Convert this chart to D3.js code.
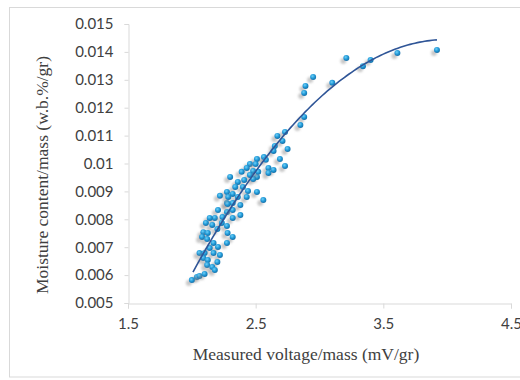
<!DOCTYPE html>
<html><head><meta charset="utf-8">
<script src="https://cdn.jsdelivr.net/npm/d3@7"></script>
<style>body{margin:0;background:#fff}svg{display:block}</style>
</head><body><svg id="c" width="520" height="380"></svg>
<script>
// Measured voltage/mass (mV/gr)
const voltage = [3.92,3.61,3.40,3.34,3.21,3.10,2.95,2.89,2.88,2.88,2.85,2.73,2.67,2.71,2.65,2.75,2.64,2.69,2.565,2.73,2.60,2.64,2.60,2.58,
2.51,2.455,2.50,2.43,2.48,2.39,2.455,2.51,2.48,2.52,2.41,2.44,2.51,2.40,2.56,2.38,2.38,
2.30,2.36,2.34,2.275,2.32,2.36,2.22,2.275,2.32,2.205,2.275,2.32,2.18,2.24,2.32,2.14,2.235,2.11,2.16,2.275,2.20,2.09,2.125,2.08,2.12,
2.28,2.32,2.275,2.17,2.205,2.14,2.17,2.06,2.10,2.22,2.09,2.125,2.20,2.12,2.16,2.18,2.04,2.06,2.10,2.00,2.28,2.285,2.43];
// Moisture content/mass (w.b.%/gr)
const moisture = [0.01407,0.01396,0.01371,0.01349,0.01378,0.01289,0.01310,0.01278,0.01253,0.01167,0.01138,0.01113,0.01099,0.01081,0.01063,0.01052,0.01045,0.01016,0.01023,0.00991,0.00984,0.00977,0.00966,0.01013,
0.01016,0.00998,0.00998,0.00984,0.00973,0.00970,0.00959,0.00952,0.00944,0.00970,0.00941,0.00901,0.00898,0.00916,0.00869,0.00851,0.00815,
0.00952,0.00934,0.00916,0.00898,0.00891,0.00880,0.00884,0.00858,0.00858,0.00833,0.00826,0.00833,0.00805,0.00808,0.00805,0.00805,0.00787,0.00787,0.00780,0.00776,0.00765,0.00754,0.00751,0.00737,0.00729,
0.00751,0.00737,0.00715,0.00715,0.00701,0.00697,0.00679,0.00679,0.00679,0.00672,0.00661,0.00654,0.00647,0.00636,0.00629,0.00618,0.00593,0.00597,0.00604,0.00582,0.00855,0.00880,0.00880];
// Polynomial (order 2) trendline coefficients: y = c0 + c1*x + c2*x^2
const trendCoef = [-0.019232, 0.016847, -0.002107];
const trendRange = [2.009, 3.92];
const xTicks = [1.5, 2.5, 3.5, 4.5];
const yTicks = [0.005,0.006,0.007,0.008,0.009,0.01,0.011,0.012,0.013,0.014,0.015];
const xTitle = "Measured voltage/mass (mV/gr)";
const yTitle = "Moisture content/mass (w.b.%/gr)";

const svg = d3.select("#c");
const defs = svg.append("defs");
const grad = defs.append("radialGradient").attr("id","dot").attr("cx","40%").attr("cy","35%").attr("r","65%");
grad.append("stop").attr("offset","0%").attr("stop-color","#6fd0f7");
grad.append("stop").attr("offset","55%").attr("stop-color","#229ad8");
grad.append("stop").attr("offset","100%").attr("stop-color","#1470a8");
const f = defs.append("filter").attr("id","sh").attr("x","-200%").attr("y","-200%").attr("width","500%").attr("height","500%");
f.append("feDropShadow").attr("dx",-3).attr("dy",3).attr("stdDeviation",1.3).attr("flood-color","#888").attr("flood-opacity",0.45);

// frame
svg.append("rect").attr("x",9.5).attr("y",7.5).attr("width",540).attr("height",369.5)
  .attr("fill","none").attr("stroke","#d9d9d9");

const x = d3.scaleLinear().domain([1.5,4.5]).range([128,511]);
const y = d3.scaleLinear().domain([0.005,0.015]).range([303,24]);

const xa = svg.append("g").attr("transform","translate(0,303.5)")
  .call(d3.axisBottom(x).tickValues(xTicks).tickSize(5).tickPadding(10).tickFormat(d3.format("")));
const ya = svg.append("g").attr("transform","translate(128.5,0)")
  .call(d3.axisLeft(y).tickValues(yTicks).tickSize(4).tickPadding(11).tickFormat(d=>String(+d.toFixed(3))));
[xa,ya].forEach(g=>{
  g.selectAll("path,line").attr("stroke","#d9d9d9");
  g.selectAll("text").attr("fill","#404040").attr("font-family","Lato, 'Open Sans', sans-serif").attr("font-size",15);
});

// trendline
const tx = d3.range(0,101).map(i=>trendRange[0]+(trendRange[1]-trendRange[0])*i/100);
const line = d3.line().x(d=>x(d)).y(d=>y(trendCoef[0]+trendCoef[1]*d+trendCoef[2]*d*d)).curve(d3.curveLinear);

// points
svg.append("g").selectAll("circle").data(voltage).join("circle")
  .attr("cx",(d)=>x(d)).attr("cy",(d,i)=>y(moisture[i])).attr("r",3)
  .attr("fill","url(#dot)").attr("filter","url(#sh)");

svg.append("path").datum(tx).attr("d",line).attr("fill","none").attr("stroke","#2f5597").attr("stroke-width",1.6);

svg.append("text").attr("x",306).attr("y",360).attr("text-anchor","middle")
  .attr("font-family","'Liberation Serif', 'Times New Roman', serif").attr("font-size",17.5).attr("fill","#404040").text(xTitle);
svg.append("text").attr("transform","translate(48,175) rotate(-90)").attr("text-anchor","middle")
  .attr("font-family","'Liberation Serif', 'Times New Roman', serif").attr("font-size",17.5).attr("fill","#404040").text(yTitle);
</script></body></html>
